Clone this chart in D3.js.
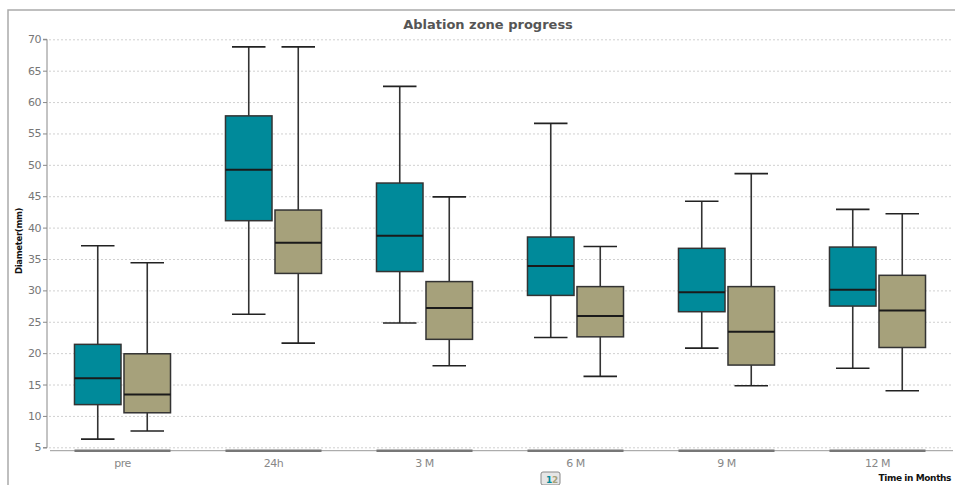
<!DOCTYPE html>
<html><head><meta charset="utf-8">
<script src="https://cdn.jsdelivr.net/npm/d3@7"></script>
<style>body{margin:0;background:#fff}svg{display:block}</style>
</head><body>
<svg id="c" width="955" height="485"></svg>
<script>
const categories = ["pre","24h","3 M","6 M","9 M","12 M"];
const seriesNames = ["1","2"];
// [low whisker, Q1, median, Q3, high whisker]
const series1 = [
  [6.3, 11.8, 16.0, 21.4, 37.1],
  [26.2, 41.1, 49.2, 57.8, 68.8],
  [24.8, 33.0, 38.7, 47.1, 62.5],
  [22.5, 29.2, 33.9, 38.5, 56.6],
  [20.8, 26.6, 29.7, 36.7, 44.2],
  [17.6, 27.5, 30.1, 36.9, 42.9]
];
const series2 = [
  [7.6, 10.5, 13.4, 19.9, 34.4],
  [21.6, 32.7, 37.6, 42.8, 68.8],
  [18.0, 22.2, 27.2, 31.4, 44.9],
  [16.3, 22.6, 25.9, 30.6, 37.0],
  [14.8, 18.1, 23.4, 30.6, 48.6],
  [14.0, 20.9, 26.8, 32.4, 42.2]
];
const yTicks = [5,10,15,20,25,30,35,40,45,50,55,60,65,70];
const colors = ["#008a9a", "#a6a17b"];

const svg = d3.select("#c");
const mLeft = 47, mRight = 953, mTop = 39.3, mBottom = 447.3;

// frame
svg.append("rect").attr("x",8).attr("y",10).attr("width",960).attr("height",490)
  .attr("fill","none").attr("stroke","#aaa").attr("stroke-width",1.5);

const y = d3.scaleLinear().domain([5,70]).range([mBottom, mTop]);
const x0 = d3.scaleBand().domain(categories).range([mLeft, mRight]).paddingInner(0.364).paddingOuter(0.182);
const x1 = d3.scaleBand().domain(seriesNames).range([0, x0.bandwidth()]).paddingInner(0.06);

// grid
svg.append("g").selectAll("line").data(yTicks).join("line")
  .attr("x1", mLeft+2).attr("x2", mRight).attr("y1", d=>y(d)+0.5).attr("y2", d=>y(d)+0.5)
  .attr("stroke","#d0d0d0").attr("stroke-dasharray","2,2").attr("stroke-width",1);

// y axis
const yAxis = d3.axisLeft(y).tickValues(yTicks).tickSize(4).tickPadding(2);
const yg = svg.append("g").attr("transform",`translate(${mLeft},0)`).call(yAxis);
yg.select(".domain").attr("stroke","#888").attr("d", `M-4,${y(70)}H0V${y(5)+0.5}H-4`);
yg.selectAll(".tick line").attr("stroke","#888");
yg.selectAll(".tick text").attr("fill","#777").style("font-family","DejaVu Sans").style("font-size","11px").attr("letter-spacing","-0.5px");

// baseline
const baseY = y(5) + 3.4;
svg.append("line").attr("x1", mLeft+3).attr("x2", mRight).attr("y1", baseY).attr("y2", baseY)
  .attr("stroke","#999").attr("stroke-width",1);
svg.append("g").selectAll("line").data(categories).join("line")
  .attr("x1", d=>x0(d)).attr("x2", d=>x0(d)+x0.bandwidth())
  .attr("y1", baseY).attr("y2", baseY).attr("stroke","#777").attr("stroke-width",2.5);

// category labels
svg.append("g").selectAll("text").data(categories).join("text")
  .attr("x", d=>x0(d)+x0.bandwidth()/2).attr("y", baseY+16)
  .attr("text-anchor","middle").attr("fill","#888")
  .style("font-family","DejaVu Sans").style("font-size","11px").attr("letter-spacing","-0.5px")
  .text(d=>d);

// boxes
const allSeries = [series1, series2];
allSeries.forEach((ser, si) => {
  const g = svg.append("g");
  ser.forEach((v, ci) => {
    const cx = x0(categories[ci]) + x1(seriesNames[si]);
    const w = x1.bandwidth();
    const mid = cx + w/2;
    const capW = w*0.72;
    const [lo,q1,med,q3,hi] = v;
    g.append("line").attr("x1",mid).attr("x2",mid).attr("y1",y(hi)).attr("y2",y(q3)).attr("stroke","#333").attr("stroke-width",1.6);
    g.append("line").attr("x1",mid).attr("x2",mid).attr("y1",y(q1)).attr("y2",y(lo)).attr("stroke","#333").attr("stroke-width",1.6);
    g.append("line").attr("x1",mid-capW/2).attr("x2",mid+capW/2).attr("y1",y(hi)).attr("y2",y(hi)).attr("stroke","#222").attr("stroke-width",1.6);
    g.append("line").attr("x1",mid-capW/2).attr("x2",mid+capW/2).attr("y1",y(lo)).attr("y2",y(lo)).attr("stroke","#222").attr("stroke-width",1.6);
    g.append("rect").attr("x",cx).attr("y",y(q3)).attr("width",w).attr("height",y(q1)-y(q3))
      .attr("fill",colors[si]).attr("stroke","#333").attr("stroke-width",1.5);
    g.append("line").attr("x1",cx).attr("x2",cx+w).attr("y1",y(med)).attr("y2",y(med)).attr("stroke","#1a1a1a").attr("stroke-width",2);
  });
});

// title
svg.append("text").attr("x",488).attr("y",29).attr("text-anchor","middle")
  .attr("fill","#555").style("font-family","DejaVu Sans").style("font-weight","bold").style("font-size","13px")
  .text("Ablation zone progress");

// y title
svg.append("text").attr("transform","translate(22,241) rotate(-90)").attr("text-anchor","middle")
  .attr("fill","#111").style("font-family","DejaVu Sans").style("font-weight","bold").style("font-size","8.5px")
  .attr("letter-spacing","-0.3px").text("Diameter(mm)");

// x title
svg.append("text").attr("x",951).attr("y",481).attr("fill","#111").attr("text-anchor","end")
  .style("font-family","DejaVu Sans").style("font-weight","bold").style("font-size","9px")
  .attr("letter-spacing","-0.4px").text("Time in Months");

// legend
const lg = svg.append("g").attr("transform","translate(541,472)");
lg.append("rect").attr("width",19).attr("height",13).attr("rx",2).attr("fill","#e6e6e6").attr("stroke","#888");
lg.selectAll("text").data(seriesNames).join("text")
  .attr("x",(d,i)=>5+i*6).attr("y",10.5).attr("fill",(d,i)=>colors[i])
  .style("font-family","DejaVu Sans").style("font-weight","bold").style("font-size","9px").text(d=>d);
</script>
</body></html>
